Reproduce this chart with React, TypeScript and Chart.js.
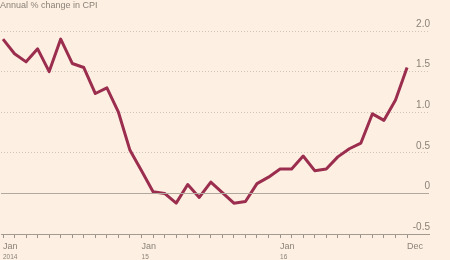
import React, { useEffect, useRef } from "react";
import { Chart, registerables } from "chart.js";

Chart.register(...registerables);

// Annual % change in CPI, monthly Jan 2014 - Dec 2016
const cpiValues = [
  1.9, 1.72, 1.62, 1.78, 1.5, 1.9, 1.6, 1.55, 1.23, 1.3, 1.0, 0.53,
  0.28, 0.02, 0.0, -0.12, 0.11, -0.05, 0.14, 0.01, -0.12, -0.1, 0.12, 0.2,
  0.3, 0.3, 0.46, 0.28, 0.3, 0.45, 0.55, 0.62, 0.98, 0.9, 1.15, 1.55,
];
const labelIndices = [0, 12, 24, 35];
const monthLabels = ["Jan", "Jan", "Jan", "Dec"];
const yearLabels = ["2014", "15", "16", ""];
const yTicks = [-0.5, 0, 0.5, 1, 1.5, 2];
const yTickLabels = ["-0.5", "0", "0.5", "1.0", "1.5", "2.0"];
const title = "Annual % change in CPI";

const BG = "#fdf0e2";
const TEXT = "#8a8178";
const LINE = "#9b2d4e";
const FONT = "'Liberation Sans', Arial, sans-serif";

export default function App() {
  const ref = useRef<HTMLCanvasElement | null>(null);
  useEffect(() => {
    if (!ref.current) return;
    const points = cpiValues.map((v, i) => ({ x: i, y: v }));
    const extras = {
      id: "extras",
      afterDatasetsDraw(chart: any) {
        const { ctx, chartArea, scales } = chart;
        const y0 = scales.y.getPixelForValue(0);
        ctx.save();
        ctx.strokeStyle = "#b0a79d";
        ctx.lineWidth = 1;
        ctx.beginPath();
        ctx.moveTo(chartArea.left, Math.round(y0) + 0.5);
        ctx.lineTo(chartArea.right, Math.round(y0) + 0.5);
        ctx.stroke();
        ctx.restore();
      },
      afterDraw(chart: any) {
        const { ctx, scales } = chart;
        ctx.save();
        ctx.fillStyle = TEXT;
        ctx.font = `6.5px ${FONT}`;
        ctx.textAlign = "left";
        ctx.textBaseline = "middle";
        labelIndices.forEach((idx, k) => {
          if (!yearLabels[k]) return;
          ctx.fillText(yearLabels[k], scales.x.getPixelForValue(idx), 257);
        });
        ctx.restore();
      },
    };
    const chart = new Chart(ref.current, {
      type: "line",
      data: {
        datasets: [
          {
            data: points,
            borderColor: LINE,
            borderWidth: 3,
            pointRadius: 0,
            tension: 0,
            borderJoinStyle: "round",
            fill: false,
            clip: 4,
          } as any,
        ],
      },
      options: {
        responsive: false,
        animation: false,
        events: [],
        layout: { padding: { top: 31, right: 21, left: 0, bottom: 0 } },
        plugins: { legend: { display: false }, tooltip: { enabled: false } },
        scales: {
          x: {
            type: "linear",
            min: -0.173,
            max: 36.9,
            afterBuildTicks: (s: any) => {
              s.ticks = cpiValues.map((_, i) => ({ value: i }));
            },
            afterFit: (s: any) => {
              s.height = 26;
            },
            grid: {
              drawOnChartArea: false,
              drawTicks: true,
              tickLength: 4,
              tickColor: "#9a9188",
            },
            border: { display: true, color: "#a39a90", width: 1 },
            ticks: {
              autoSkip: false,
              maxRotation: 0,
              align: "start",
              padding: 3,
              color: TEXT,
              font: { family: FONT, size: 9 },
              callback: (v: any) => {
                const k = labelIndices.indexOf(Number(v));
                return k >= 0 ? monthLabels[k] : "";
              },
            },
          },
          y: {
            position: "right",
            min: -0.5,
            max: 2.0,
            afterBuildTicks: (s: any) => {
              s.ticks = yTicks.map((v) => ({ value: v }));
            },
            afterFit: (s: any) => {
              s.width = 0;
            },
            grid: {
              color: "#cfc5b9",
              lineWidth: 1,
              drawTicks: false,
            },
            border: { display: false, dash: [1, 2] },
            ticks: {
              mirror: true,
              padding: 1,
              labelOffset: -7,
              color: TEXT,
              font: { family: FONT, size: 10 },
              callback: (v: any) => {
                const k = yTicks.indexOf(Number(v));
                return k >= 0 ? yTickLabels[k] : "";
              },
            },
          },
        },
      },
      plugins: [extras],
    });
    return () => chart.destroy();
  }, []);
  return (
    <div
      style={{
        position: "absolute",
        left: 0,
        top: 0,
        width: 450,
        height: 260,
        background: BG,
        overflow: "hidden",
      }}
    >
      <div
        style={{
          position: "absolute",
          left: 0,
          top: 0,
          fontFamily: FONT,
          fontSize: 9,
          lineHeight: "10px",
          color: TEXT,
          whiteSpace: "nowrap",
        }}
      >
        {title}
      </div>
      <canvas ref={ref} width={450} height={260} style={{ display: "block" }} />
    </div>
  );
}
